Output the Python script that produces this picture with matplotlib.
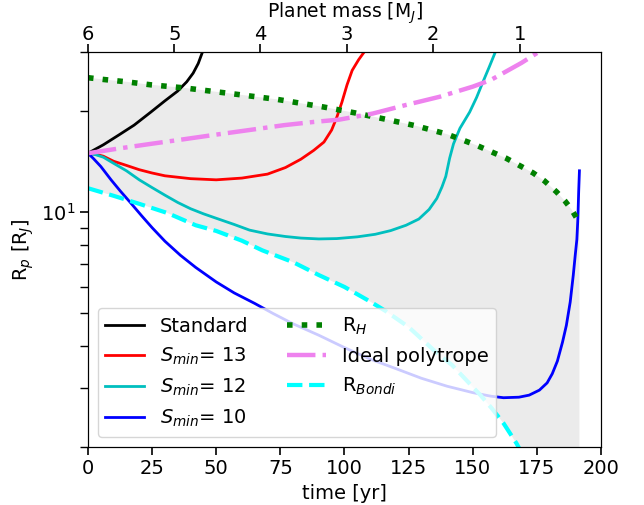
import numpy as np
import matplotlib.pyplot as plt
from matplotlib.ticker import NullFormatter

# values (time in yr, radius in R_J)
t_std = [0, 6, 12, 18, 24.5, 30, 35, 38.5, 41, 43, 44.6, 45.5]
r_std = [15.0, 15.9, 17.0, 18.2, 19.9, 21.5, 23.0, 24.5, 26.0, 27.8, 30.0, 31.5]

t_s13 = [0, 3, 6, 10, 15, 20, 25, 30, 40, 50, 60, 70, 77, 83, 88, 92, 95, 97, 99, 101, 103, 105.5, 108]
r_s13 = [15.0, 14.9, 14.7, 14.2, 13.8, 13.4, 13.1, 12.85, 12.6, 12.5, 12.65, 13.0, 13.6, 14.4,
         15.3, 16.2, 17.6, 19.2, 21.3, 24.0, 26.5, 28.5, 30.3]

t_s12 = [0, 3, 6, 10, 15, 20, 25, 30, 35, 40, 45, 50, 57, 63, 70, 77, 83, 90, 97, 105, 112,
         118, 124, 129, 133, 136, 138, 139.5, 141, 142.5, 145, 148.8, 151.5, 154, 156.5, 159]
r_s12 = [15.0, 14.85, 14.6, 14.0, 13.3, 12.5, 11.85, 11.25, 10.7, 10.25, 9.9, 9.6, 9.2, 8.85,
         8.62, 8.47, 8.38, 8.33, 8.35, 8.45, 8.6, 8.82, 9.15, 9.55, 10.2, 11.0, 11.9, 12.8,
         14.5, 16.0, 17.8, 19.9, 22.0, 24.5, 27.2, 30.3]

t_s10 = [0, 2, 5, 9, 12.5, 16.5, 21, 25, 30, 36, 42, 50, 57, 65, 72, 80, 90, 100, 110, 120,
         130, 140, 150, 157, 162, 168, 172, 176, 179, 181, 183, 185, 186.5, 188, 189.2, 190,
         190.6, 191, 191.3, 191.6]
r_s10 = [15.0, 14.5, 13.7, 12.5, 11.6, 10.7, 9.75, 9.0, 8.2, 7.45, 6.85, 6.2, 5.75, 5.35, 5.0,
         4.65, 4.3, 3.95, 3.65, 3.42, 3.2, 3.03, 2.9, 2.83, 2.8, 2.81, 2.85, 2.95, 3.1, 3.3,
         3.6, 4.1, 4.6, 5.4, 6.5, 7.5, 8.3, 9.6, 11.5, 13.3]

t_hill = [0, 6, 15, 24.5, 37.5, 55.7, 74, 92, 104, 116, 128, 140, 151, 163, 173.6, 178,
          182.7, 186, 188.5, 190.5, 191.6]
r_hill = [25.2, 24.9, 24.5, 24.0, 23.5, 22.6, 21.7, 20.6, 19.8, 18.95, 18.1, 17.1, 15.9, 14.5,
          13.1, 12.4, 11.5, 10.8, 10.2, 9.62, 9.4]

t_poly = [0, 12, 24.5, 37, 50, 63, 76.6, 88, 98, 111, 124, 137, 150, 157, 163, 169, 175.5]
r_poly = [15.0, 15.5, 16.0, 16.5, 17.05, 17.6, 18.2, 18.6, 18.9, 19.7, 20.9, 22.1, 23.7, 24.8,
          26.3, 27.9, 30.0]

t_bondi = [0, 10, 20, 31, 42, 50, 60, 68, 80, 90, 100, 110, 116, 125, 135, 142, 148, 153,
           157.3, 162, 167, 172, 180, 191.6]
r_bondi = [11.8, 11.2, 10.6, 9.95, 9.15, 8.8, 8.23, 7.7, 7.1, 6.5, 5.99, 5.42, 5.08, 4.55,
           3.87, 3.5, 3.13, 2.85, 2.61, 2.35, 2.05, 1.75, 1.25, 0.6]

# top axis: planet mass ticks and their time positions
mass_labels = ['6', '5', '4', '3', '2', '1']
mass_tick_t = [0, 33.7, 67.2, 100.8, 134.4, 168.4]

fig = plt.figure(figsize=(6.44, 5.05), dpi=100)
ax = fig.add_axes([0.1366, 0.1154, 0.7966, 0.781])

# shaded zone between Bondi and Hill radius
ax.fill(np.concatenate([t_hill, t_bondi[::-1]]),
        np.concatenate([r_hill, r_bondi[::-1]]),
        color='#ebebeb', lw=0, zorder=0)

ax.plot(t_std, r_std, color='k', lw=2, label='Standard')
ax.plot(t_s13, r_s13, color='r', lw=2, label='$S_{min}$= 13')
ax.plot(t_s12, r_s12, color='c', lw=2, label='$S_{min}$= 12')
ax.plot(t_s10, r_s10, color='b', lw=2, label='$S_{min}$= 10')
ax.plot(t_hill, r_hill, color='g', lw=4, ls=':', label='R$_H$')
ax.plot(t_poly, r_poly, color='violet', lw=3.2, ls='-.', label='Ideal polytrope')
ax.plot(t_bondi, r_bondi, color='cyan', lw=3, ls='--', label='R$_{Bondi}$')

ax.set_yscale('log')
ax.set_xlim(0, 200)
ax.set_ylim(2, 30)
ax.yaxis.set_minor_formatter(NullFormatter())
ax.set_xlabel('time [yr]', fontsize=14)
ax.set_ylabel('R$_p$ [R$_J$]', fontsize=14)
ax.tick_params(which='both', direction='out', labelsize=14)
ax.tick_params(which='major', length=5.5, width=1.2)
ax.tick_params(which='minor', length=5.5, width=1)

ax.legend(loc='lower left', ncol=2, fontsize=14)

ax2 = ax.twiny()
ax2.set_xlim(0, 200)
ax2.set_xticks(mass_tick_t)
ax2.set_xticklabels(mass_labels)
ax2.tick_params(direction='out', labelsize=14, length=5.5, width=1.2, pad=0.5)
ax2.set_xlabel('Planet mass [M$_J$]', fontsize=13.5, labelpad=5.5)

fig.savefig('out.png', dpi=100)
